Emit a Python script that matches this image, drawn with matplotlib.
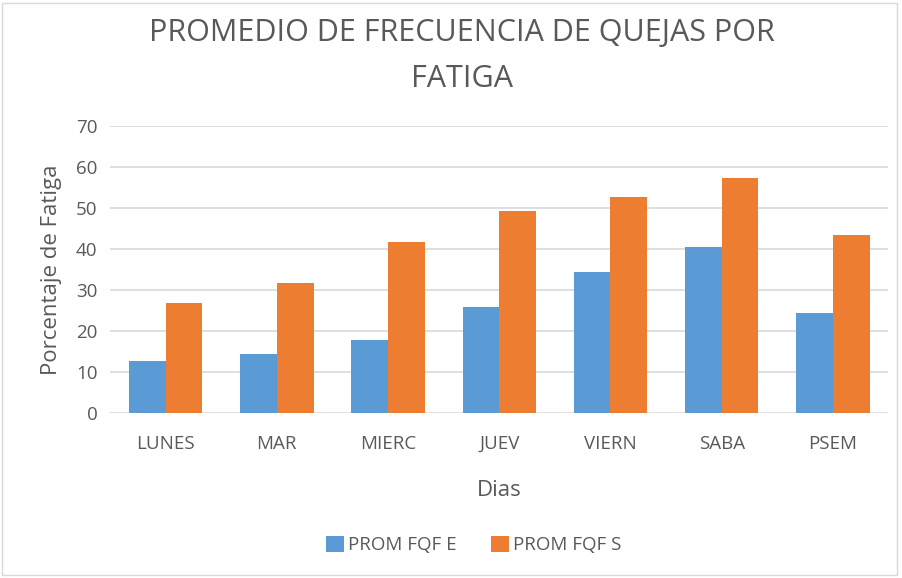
import matplotlib.pyplot as plt
import matplotlib.patches as mpatches
import numpy as np

dias = ['LUNES', 'MAR', 'MIERC', 'JUEV', 'VIERN', 'SABA', 'PSEM']
prom_e = [12.8, 14.4, 17.8, 25.8, 34.5, 40.4, 24.3]
prom_s = [26.8, 31.8, 41.8, 49.2, 52.8, 57.3, 43.3]

blue = '#5b9bd5'
orange = '#ed7d31'
gray = '#595959'

plt.rcParams['font.family'] = ['Open Sans', 'DejaVu Sans']

fig = plt.figure(figsize=(9.02, 5.78), dpi=100)
ax = fig.add_axes([0.122, 0.2855, 0.863, 0.4965])

x = np.arange(len(dias))
w = 0.33
ax.bar(x - w / 2, prom_e, w, color=blue, label='PROM FQF E', zorder=3)
ax.bar(x + w / 2, prom_s, w, color=orange, label='PROM FQF S', zorder=3)

ax.set_xlim(-0.5, len(dias) - 0.5)
ax.set_ylim(0, 70)
ax.set_yticks(range(0, 71, 10))
ax.yaxis.grid(True, color='#d9d9d9', linewidth=1.2, zorder=0)
ax.set_axisbelow(True)
for s in ax.spines.values():
    s.set_visible(False)
ax.tick_params(length=0, labelsize=13.5, colors=gray, pad=9)
ax.tick_params(axis='x', pad=16)
ax.set_xticks(x)
ax.set_xticklabels(dias)

ax.set_ylabel('Porcentaje de Fatiga', fontsize=16, color=gray)
ax.yaxis.set_label_coords(-0.062, 0.5)
ax.set_xlabel('Dias', fontsize=16, color=gray, labelpad=19)

fig.text(0.512, 0.903, 'PROMEDIO DE FRECUENCIA DE QUEJAS POR\nFATIGA', ha='center', va='center',
         fontsize=22, color=gray, linespacing=1.68)

fig.legend(loc='center', bbox_to_anchor=(0.525, 0.057), ncol=2, frameon=False,
           fontsize=13.5, labelcolor=gray, handlelength=1.0, handleheight=1.0,
           handletextpad=0.2, columnspacing=1.8)

fig.patches.append(mpatches.Rectangle((0.002, 0.005), 0.992, 0.99, transform=fig.transFigure,
                                      fill=False, edgecolor='#d9d9d9', linewidth=1))

plt.savefig('out.png', dpi=100)
plt.close()
